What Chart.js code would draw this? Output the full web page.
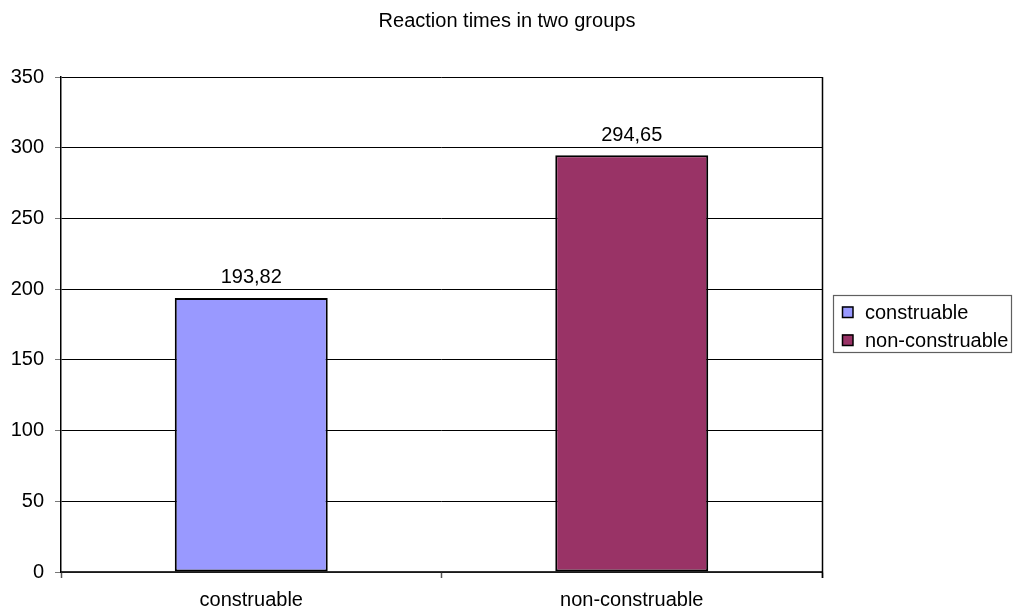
<!DOCTYPE html>
<html>
<head>
<meta charset="utf-8">
<script src="https://cdn.jsdelivr.net/npm/chart.js@4/dist/chart.umd.min.js"></script>
<style>
  html, body { margin: 0; padding: 0; background: #fff; }
  #wrap { width: 1013px; height: 609px; }
</style>
</head>
<body>
<div id="wrap"><canvas id="c" width="1013" height="609"></canvas></div>
<script>
const categories = ['construable', 'non-construable'];
const values = [193.82, 294.65];
const yTicks = [0, 50, 100, 150, 200, 250, 300, 350];
const titleText = 'Reaction times in two groups';

const barColors = ['#9999FF', '#993366'];
const FONT = '"Liberation Sans", Arial, sans-serif';
const FS = 20;

const extras = {
  id: 'extras',
  afterDraw(chart) {
    const ctx = chart.ctx;
    const a = chart.chartArea;
    ctx.save();
    // right border of plot area
    ctx.strokeStyle = '#000';
    ctx.lineWidth = 1.5;
    ctx.beginPath();
    ctx.moveTo(Math.round(a.right) + 0.5, a.top);
    ctx.lineTo(Math.round(a.right) + 0.5, a.bottom + 6);
    ctx.stroke();
    // title
    ctx.fillStyle = '#000';
    ctx.font = FS + 'px ' + FONT;
    ctx.textAlign = 'center';
    ctx.textBaseline = 'middle';
    ctx.fillText(titleText, 507, 21);
    // data labels
    const meta = chart.getDatasetMeta(0);
    meta.data.forEach((el, i) => {
      ctx.fillText(String(values[i]).replace('.', ','), el.x, el.y - 20);
    });
    // legend
    ctx.strokeStyle = '#606060';
    ctx.lineWidth = 1.2;
    ctx.strokeRect(833.5, 295.5, 178, 57);
    const rows = [312, 340];
    categories.forEach((c, i) => {
      ctx.fillStyle = barColors[i];
      ctx.fillRect(842, rows[i] - 5.5, 11, 11);
      ctx.strokeStyle = '#000';
      ctx.lineWidth = 1.5;
      ctx.strokeRect(842.5, rows[i] - 5, 10.5, 10.5);
      ctx.fillStyle = '#000';
      ctx.textAlign = 'left';
      ctx.textBaseline = 'middle';
      ctx.fillText(c, 865, rows[i] + 1);
    });
    ctx.restore();
  }
};

new Chart(document.getElementById('c'), {
  type: 'bar',
  data: {
    labels: categories,
    datasets: [{
      data: values,
      backgroundColor: barColors,
      borderColor: '#000',
      borderWidth: 2,
      borderSkipped: false,
      categoryPercentage: 1,
      barPercentage: 0.402
    }]
  },
  options: {
    responsive: false,
    devicePixelRatio: 1,
    animation: false,
    layout: { padding: { top: 77, right: 191, left: 0, bottom: 0 } },
    plugins: {
      legend: { display: false },
      title: { display: false },
      tooltip: { enabled: false }
    },
    scales: {
      x: {
        offset: true,
        afterFit(s) { s.height = 37; },
        grid: {
          offset: true,
          drawOnChartArea: false,
          drawTicks: true,
          tickLength: 6,
          tickColor: '#555',
          tickWidth: 1.5
        },
        border: { display: true, color: '#333', width: 1.5 },
        ticks: {
          color: '#000',
          font: { family: FONT, size: FS },
          padding: 10,
          maxRotation: 0
        }
      },
      y: {
        min: yTicks[0],
        max: yTicks[yTicks.length - 1],
        afterFit(s) { s.width = 61; },
        afterBuildTicks(s) { s.ticks = yTicks.map(v => ({ value: v })); },
        grid: {
          color: '#000',
          lineWidth: 1,
          drawTicks: true,
          tickLength: 6,
          tickColor: '#777'
        },
        border: { display: true, color: '#000', width: 1.5 },
        ticks: {
          color: '#000',
          font: { family: FONT, size: FS },
          padding: 11
        }
      }
    }
  },
  plugins: [extras]
});
</script>
</body>
</html>
